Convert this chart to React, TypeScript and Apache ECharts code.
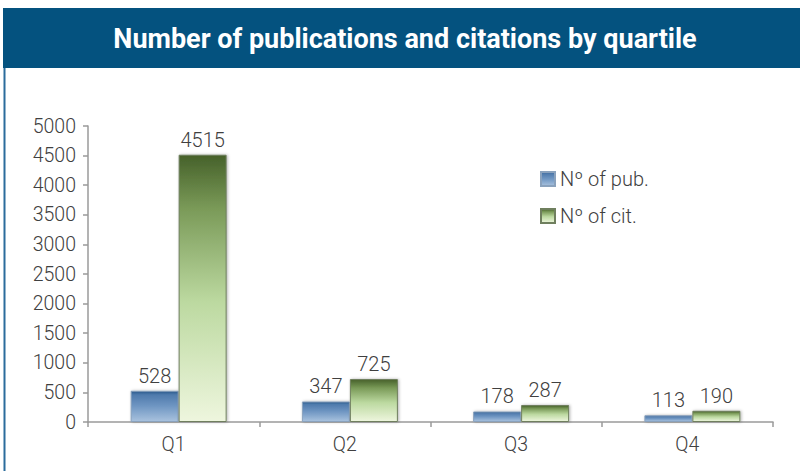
import React, { useEffect, useRef } from "react";
import * as echarts from "echarts";

const categories = ["Q1", "Q2", "Q3", "Q4"];
const publications = [528, 347, 178, 113];
const citations = [4515, 725, 287, 190];
const seriesNames = ["Nº of pub.", "Nº of cit."];
const titleText = "Number of publications and citations by quartile";

export default function App() {
  const ref = useRef<HTMLDivElement>(null);
  useEffect(() => {
    if (!ref.current) return;
    const chart = echarts.init(ref.current, undefined, { renderer: "svg" });
    const font = "Roboto";
    const blue = new echarts.graphic.LinearGradient(0, 0, 0, 1, [
      { offset: 0, color: "#2c5a8c" },
      { offset: 0.12, color: "#4f7aac" },
      { offset: 0.5, color: "#7097c3" },
      { offset: 1, color: "#a9c2de" },
    ]);
    const green = new echarts.graphic.LinearGradient(0, 0, 0, 1, [
      { offset: 0, color: "#46612a" },
      { offset: 0.2, color: "#7a9a58" },
      { offset: 0.55, color: "#bcd9a0" },
      { offset: 1, color: "#eef6de" },
    ]);
    const labelStyle = {
      show: true,
      position: "top" as const,
      distance: 5,
      fontFamily: font,
      fontWeight: 300,
      fontSize: 20,
      color: "#404040",
    };
    const axisText = { fontFamily: font, fontWeight: 300, fontSize: 19.5, color: "#404040" };
    chart.setOption({
      animation: false,
      backgroundColor: "#ffffff",
      graphic: [
        {
          type: "rect",
          shape: { x: 3, y: 8, width: 797, height: 60 },
          style: { fill: "#04527f" },
          silent: true,
        },
        {
          type: "text",
          x: 405,
          y: 39,
          style: {
            text: titleText,
            fill: "#ffffff",
            font: `bold 27px ${font}`,
            textAlign: "center",
            textVerticalAlign: "middle",
          },
          silent: true,
        },
        {
          type: "line",
          shape: { x1: 4.5, y1: 68, x2: 4.5, y2: 471 },
          style: { stroke: "#2b6c9c", lineWidth: 2 },
          silent: true,
        },
      ],
      legend: {
        orient: "vertical",
        left: 535,
        top: 164,
        itemWidth: 14,
        itemHeight: 14,
        itemGap: 17,
        icon: "rect",
        textStyle: { ...axisText, fontSize: 20, padding: [0, 0, 0, 0] },
        data: seriesNames,
      },
      grid: [
        { left: 88, right: 27, top: 126, bottom: 49, containLabel: false },
        { left: 93, right: 22, top: 126, bottom: 49, containLabel: false },
      ],
      xAxis: [
        {
          type: "category",
          gridIndex: 0,
          data: categories,
          axisLine: { lineStyle: { color: "#9a9a9a", width: 1.5 } },
          axisTick: { show: true, length: 5, lineStyle: { color: "#9a9a9a", width: 1.5 } },
          axisLabel: { ...axisText, margin: 12 },
        },
        {
          type: "category",
          gridIndex: 1,
          data: categories,
          show: false,
        },
      ],
      yAxis: [
        {
          type: "value",
          gridIndex: 0,
          min: 0,
          max: 5000,
          interval: 500,
          splitLine: { show: false },
          axisLine: { show: true, lineStyle: { color: "#9a9a9a", width: 1.5 } },
          axisTick: { show: true, length: 5, lineStyle: { color: "#9a9a9a", width: 1.5 } },
          axisLabel: { ...axisText, margin: 12, formatter: (v: number) => String(v) },
        },
        {
          type: "value",
          gridIndex: 1,
          min: 0,
          max: 5000,
          interval: 500,
          show: false,
          splitLine: { show: false },
        },
      ],
      series: [
        {
          name: seriesNames[0],
          type: "bar",
          xAxisIndex: 1,
          yAxisIndex: 1,
          data: publications,
          barWidth: 48,
          barGap: "0%",
          itemStyle: {
            color: blue,
            borderColor: "#8aa2bd",
            borderWidth: 1,
            shadowColor: "rgba(0,0,0,0.3)",
            shadowBlur: 3,
            shadowOffsetX: 1,
          },
          label: labelStyle,
          z: 3,
        },
        {
          name: seriesNames[1],
          type: "bar",
          xAxisIndex: 1,
          yAxisIndex: 1,
          data: citations,
          barWidth: 48,
          itemStyle: {
            color: green,
            borderColor: "#6f7f5e",
            borderWidth: 1,
            shadowColor: "rgba(0,0,0,0.3)",
            shadowBlur: 3,
            shadowOffsetX: 1,
          },
          label: labelStyle,
          z: 3,
        },
      ],
    });
    return () => chart.dispose();
  }, []);
  return (
    <div
      ref={ref}
      style={{ position: "fixed", left: 0, top: 0, width: 800, height: 471 }}
    />
  );
}
